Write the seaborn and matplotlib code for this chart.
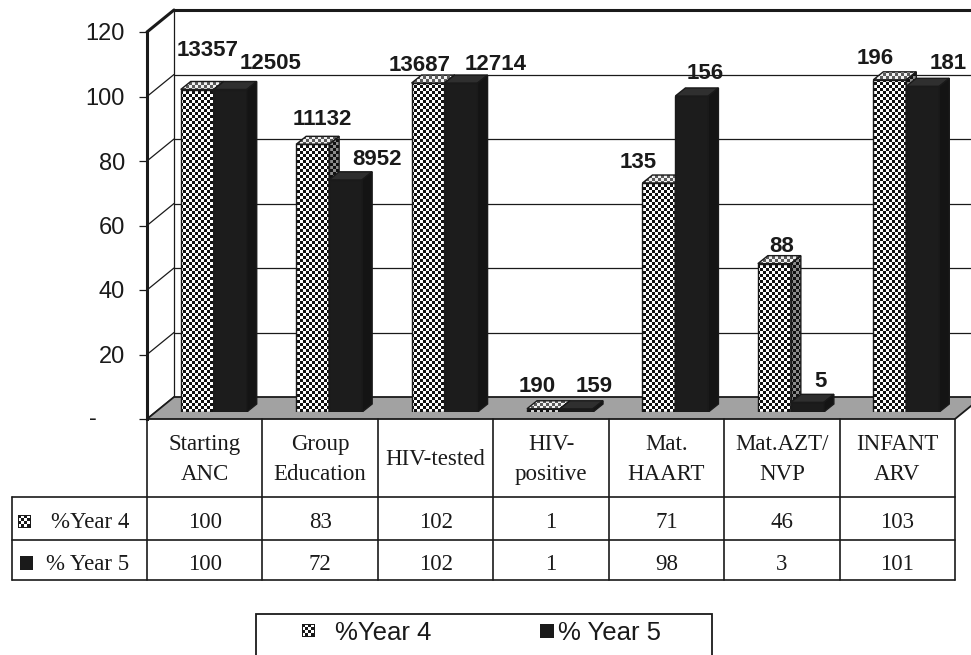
import numpy as np
import pandas as pd
import matplotlib
matplotlib.use("Agg")
import matplotlib.pyplot as plt
import seaborn as sns
from matplotlib.patches import Polygon, Rectangle, PathPatch
from matplotlib.path import Path

# ---------------------------------------------------------------- data
categories = ["Starting\nANC", "Group\nEducation", "HIV-tested", "HIV-\npositive",
              "Mat.\nHAART", "Mat.AZT/\nNVP", "INFANT\nARV"]
series = ["%Year 4", "% Year 5"]
pct_year4 = [100, 83, 102, 1, 71, 46, 103]
pct_year5 = [100, 72, 102, 1, 98, 3, 101]
count_year4 = [13357, 11132, 13687, 190, 135, 88, 196]
count_year5 = [12505, 8952, 12714, 159, 156, 5, 181]
y_ticks = [0, 20, 40, 60, 80, 100, 120]
y_tick_labels = ["-", "20", "40", "60", "80", "100", "120"]

# label nudges (pixels, right / up) from the front-top centre of each bar
year4_label_nudge = [(10, 41), (10, 27), (-8, 20), (-6, 24), (-21, 23), (7, 19), (-15, 23)]
year5_label_nudge = [(40, 28), (31, 22), (35, 21), (18, 24), (13, 24), (13, 23), (25, 25)]

# ---------------------------------------------------------------- layout (pixels)
W, H = 971, 655
FRONT_LEFT, FRONT_RIGHT = 147, 955
FRONT_BASE = 419
PX_PER_UNIT = 3.225
PLOT_H = 120 * PX_PER_UNIT
WALL_DX, WALL_DY = 27, 22          # depth of the back wall
BAR_DX, BAR_DY = 9, 7              # depth position of the bars
FACE_DX, FACE_DY = 10, 8           # depth of each bar
INK = "#1a1a1a"

sns.set_style("white")
plt.rcParams["font.family"] = ["Liberation Sans", "DejaVu Sans"]
SERIF = ["Liberation Serif", "DejaVu Serif"]

fig = plt.figure(figsize=(W / 100, H / 100), dpi=100)
fig.patch.set_facecolor("white")


def fig_rect(left, top, width, height):
    return [left / W, 1 - (top + height) / H, width / W, height / H]


# full-figure pixel canvas for walls, floor, table and legend
canvas = fig.add_axes([0, 0, 1, 1], zorder=0)
canvas.set_xlim(0, W)
canvas.set_ylim(H, 0)
canvas.axis("off")

# ---------------------------------------------------------------- walls and floor
back_base = FRONT_BASE - WALL_DY
for v in y_ticks:
    yf = FRONT_BASE - v * PX_PER_UNIT
    yb = yf - WALL_DY
    lw = 2.2 if v == 120 else 0.9
    canvas.plot([FRONT_LEFT, FRONT_LEFT + WALL_DX], [yf, yb], color=INK, lw=lw,
                solid_capstyle="round", zorder=2)
    if v > 0:
        canvas.plot([FRONT_LEFT + WALL_DX, W], [yb, yb], color=INK, lw=lw, zorder=2)
canvas.plot([FRONT_LEFT + WALL_DX] * 2, [back_base, back_base - PLOT_H],
            color=INK, lw=0.9, zorder=2)

floor = Polygon([(FRONT_LEFT, FRONT_BASE), (FRONT_LEFT + WALL_DX, back_base),
                 (FRONT_RIGHT + WALL_DX, back_base), (FRONT_RIGHT, FRONT_BASE)],
                closed=True, facecolor="#a2a2a2", edgecolor=INK, lw=1.3, zorder=3)
canvas.add_patch(floor)

# ---------------------------------------------------------------- front value axis
ax = fig.add_axes(fig_rect(FRONT_LEFT, FRONT_BASE - PLOT_H, FRONT_RIGHT - FRONT_LEFT, PLOT_H),
                  zorder=1)
ax.patch.set_alpha(0)
ax.set_xlim(-0.5, len(categories) - 0.5)
ax.set_ylim(0, 120)
ax.set_xticks([])
ax.set_yticks(y_ticks)
ax.set_yticklabels([""] + y_tick_labels[1:])
for side in ["top", "right", "bottom"]:
    ax.spines[side].set_visible(False)
ax.spines["left"].set_linewidth(2.2)
ax.spines["left"].set_color(INK)
ax.tick_params(axis="y", direction="out", length=6, width=0.9, color=INK,
               pad=10, labelsize=17, labelcolor=INK, left=True)
canvas.text(93, FRONT_BASE, y_tick_labels[0], ha="center", va="center",
            fontsize=17, color=INK)

# ---------------------------------------------------------------- bars
bax = fig.add_axes(fig_rect(FRONT_LEFT + BAR_DX, FRONT_BASE - BAR_DY - PLOT_H,
                            FRONT_RIGHT - FRONT_LEFT, PLOT_H), zorder=2)
bax.patch.set_alpha(0)

df = pd.DataFrame({
    "category": categories * 2,
    "series": [s for s in series for _ in categories],
    "percent": pct_year4 + pct_year5,
})
sns.barplot(data=df, x="category", y="percent", hue="series", order=categories,
            hue_order=series, palette={series[0]: "white", series[1]: "#1c1c1c"},
            width=0.572, edgecolor=INK, linewidth=1.0, saturation=1,
            errorbar=None, legend=False, ax=bax)
xlim = (-0.5, len(categories) - 0.5)
bax.set_xlim(*xlim)
bax.set_ylim(0, 120)
bax.axis("off")

npx_w = FRONT_RIGHT - FRONT_LEFT
npx_h = int(round(PLOT_H))
dxd = FACE_DX * (xlim[1] - xlim[0]) / npx_w
dyd = FACE_DY * 120 / PLOT_H

rr = np.arange(npx_h)[:, None]
cc = np.arange(npx_w)[None, :]
checker = ((rr // 3 + cc // 3) % 2 == 0)


def pattern(dark, light):
    d = np.array(matplotlib.colors.to_rgb(dark))
    l = np.array(matplotlib.colors.to_rgb(light))
    return np.where(checker[..., None], d, l)


def patterned(polys, dark, light, z):
    path = Path.make_compound_path(*[Path(np.vstack([p, p[:1]]), closed=True) for p in polys])
    clip = PathPatch(path, transform=bax.transData, facecolor="none", edgecolor="none")
    img = bax.imshow(pattern(dark, light), extent=(xlim[0], xlim[1], 0, 120), origin="upper",
                     aspect="auto", interpolation="nearest", zorder=z)
    img.set_clip_path(clip)


def faces(patch):
    x0, w, h = patch.get_x(), patch.get_width(), patch.get_height()
    front = np.array([(x0, 0), (x0 + w, 0), (x0 + w, h), (x0, h)])
    top = np.array([(x0, h), (x0 + w, h), (x0 + w + dxd, h + dyd), (x0 + dxd, h + dyd)])
    side = np.array([(x0 + w, 0), (x0 + w, h), (x0 + w + dxd, h + dyd), (x0 + w + dxd, dyd)])
    return front, top, side


cont4, cont5 = bax.containers[0], bax.containers[1]
bars4 = sorted(cont4.patches, key=lambda p: p.get_x())
bars5 = sorted(cont5.patches, key=lambda p: p.get_x())

# checkered series: front, top and side faces
f4 = [faces(p) for p in bars4]
patterned([f[0] for f in f4], "#111111", "#ffffff", 2.0)
patterned([f[1] for f in f4], "#5a5a5a", "#f0f0f0", 2.05)
patterned([f[2] for f in f4], "#111111", "#8c8c8c", 2.05)
for p, (front, top, side) in zip(bars4, f4):
    p.set_facecolor("none")
    p.set_zorder(2.2)
    for poly in (top, side):
        bax.add_patch(Polygon(poly, closed=True, fill=False, edgecolor=INK, lw=1.0, zorder=2.3))

# solid series
for p in bars5:
    p.set_zorder(3)
    front, top, side = faces(p)
    bax.add_patch(Polygon(top, closed=True, facecolor="#2f2f2f", edgecolor=INK, lw=1.0, zorder=3.1))
    bax.add_patch(Polygon(side, closed=True, facecolor="#141414", edgecolor=INK, lw=1.0, zorder=3.1))

# count labels above bars
LABEL_HALF_CAP = 7.5
for bars, counts, nudges in [(bars4, count_year4, year4_label_nudge),
                             (bars5, count_year5, year5_label_nudge)]:
    for p, n, (ndx, ndy) in zip(bars, counts, nudges):
        bax.annotate(f"{n}", xy=(p.get_x() + p.get_width() / 2, p.get_height()),
                     xytext=(ndx * 0.72, (ndy - LABEL_HALF_CAP) * 0.72),
                     textcoords="offset points", ha="center", va="baseline",
                     fontsize=16, fontweight="bold", color=INK, zorder=5,
                     annotation_clip=False)

# ---------------------------------------------------------------- data table
col_edges = np.linspace(FRONT_LEFT, FRONT_RIGHT, len(categories) + 1)
col_mid = (col_edges[:-1] + col_edges[1:]) / 2
TABLE_LEFT = 12
HEAD_BOTTOM, ROW1_BOTTOM, ROW2_BOTTOM = 497, 540, 580
tl = dict(color=INK, lw=1.2, zorder=4)
for y in (HEAD_BOTTOM, ROW1_BOTTOM, ROW2_BOTTOM):
    canvas.plot([TABLE_LEFT, FRONT_RIGHT], [y, y], **tl)
canvas.plot([TABLE_LEFT, TABLE_LEFT], [HEAD_BOTTOM, ROW2_BOTTOM], **tl)
for x in col_edges:
    canvas.plot([x, x], [FRONT_BASE, ROW2_BOTTOM], **tl)

for xm, cat in zip(col_mid, categories):
    lines = cat.split("\n")
    baselines = [450, 480] if len(lines) == 2 else [465]
    for ln, yb in zip(lines, baselines):
        canvas.text(xm, yb, ln, ha="center", va="baseline", fontsize=16.5,
                    family=SERIF, color=INK, zorder=5)

for vals, yb in [(pct_year4, 527.5), (pct_year5, 569.5)]:
    for xm, v in zip(col_mid, vals):
        canvas.text(xm, yb, f"{v}", ha="center", va="baseline", fontsize=16.5,
                    family=SERIF, color=INK, zorder=5)


def checker_key(x0, y0, size):
    a = np.ones((size, size, 3))
    r = np.arange(size)[:, None]
    c = np.arange(size)[None, :]
    a[((r // 3 + c // 3) % 2 == 0)] = 0.1
    a[0, :] = a[-1, :] = a[:, 0] = a[:, -1] = 0.1
    canvas.imshow(a, extent=(x0, x0 + size, y0 + size, y0), origin="upper",
                  aspect="auto", interpolation="nearest", zorder=5)


checker_key(18, 515, 13)
canvas.add_patch(Rectangle((20, 556), 13, 14, facecolor=INK, edgecolor="none", zorder=5))
canvas.text(129, 527.5, series[0], ha="right", va="baseline", fontsize=16.5,
            family=SERIF, color=INK, zorder=5)
canvas.text(129, 569.5, series[1], ha="right", va="baseline", fontsize=16.5,
            family=SERIF, color=INK, zorder=5)

# ---------------------------------------------------------------- legend
canvas.add_patch(Rectangle((256, 614), 456, 60, facecolor="white", edgecolor=INK,
                           lw=1.3, zorder=4))
checker_key(302, 624, 13)
canvas.text(335, 639.5, series[0], ha="left", va="baseline", fontsize=18.5,
            color=INK, zorder=5)
canvas.add_patch(Rectangle((540, 624), 14, 14, facecolor=INK, edgecolor="none", zorder=5))
canvas.text(558, 639.5, series[1], ha="left", va="baseline", fontsize=18.5,
            color=INK, zorder=5)
canvas.set_xlim(0, W)
canvas.set_ylim(H, 0)

fig.savefig("out.png", dpi=100, facecolor="white")
